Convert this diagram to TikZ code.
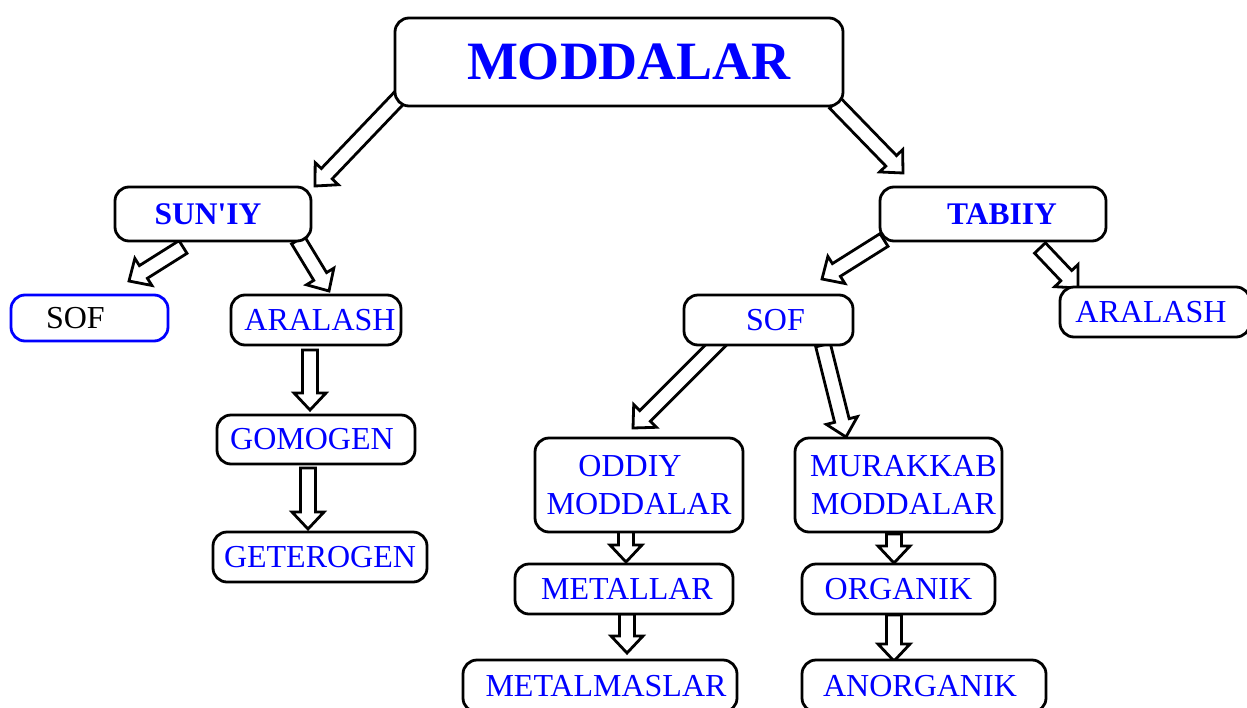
\documentclass[tikz,border=0pt]{standalone}
\usepackage{fontspec}
\setmainfont{Liberation Serif}
\usetikzlibrary{calc,backgrounds}
\definecolor{txtblue}{RGB}{0,0,255}
\tikzset{
  box/.style={draw, line width=2.8pt, rounded corners=14pt, fill=white, text=txtblue,
    font=\fontsize{32}{38}\selectfont, inner sep=0pt, align=center},
  boldbox/.style={box, font=\fontsize{31.5}{38}\selectfont\bfseries},
  fat/.style={draw, line width=2.8pt, fill=white, line join=miter},
}
% block arrow from #1 to #2
\newcommand{\fatarrow}[2]{%
  \coordinate (fa-h) at ($(#2)!17pt!(#1)$);
  \draw[fat] ($(#1)!7.5pt!90:(#2)$) -- ($(fa-h)!7.5pt!-90:(#1)$) -- ($(fa-h)!16pt!-90:(#1)$)
    -- (#2) -- ($(fa-h)!16pt!90:(#1)$) -- ($(fa-h)!7.5pt!90:(#1)$) -- ($(#1)!7.5pt!-90:(#2)$) -- cycle;}

\begin{document}
\begin{tikzpicture}[x=1pt, y=-1pt]
\useasboundingbox (0,0) rectangle (1247,707);

% top
\node[boldbox, minimum width=448, minimum height=88, font=\fontsize{54}{60}\selectfont\bfseries] (moddalar) at (619,62) {\hspace{20pt}MODDALAR};
\node[boldbox, minimum width=196, minimum height=54] (suniy) at (213,214) {SUN\textquotesingle IY\hspace{10pt}};
\node[boldbox, minimum width=226, minimum height=54] (tabiiy) at (993,214) {\hspace{18pt}TABIIY};

% sun'iy side
\node[box, draw=txtblue, text=black, text width=87pt, inner xsep=35pt, align=left, minimum height=46] (sofl) at (89.5,318) {SOF};
\node[box, minimum width=170, minimum height=50] (aralashl) at (316,320) {\hspace{8pt}ARALASH};
\node[box, minimum width=198, minimum height=49] (gomogen) at (316,439.5) {GOMOGEN\hspace{8pt}};
\node[box, minimum width=214, minimum height=50] (geterogen) at (320,557) {GETEROGEN};

% tabiiy side
\node[box, minimum width=169, minimum height=50] (sofr) at (768.5,320) {\hspace{14pt}SOF};
\node[box, minimum width=190, minimum height=50] (aralashr) at (1155,312) {ARALASH\hspace{8pt}};
\node[box, minimum width=208, minimum height=94] (oddiy) at (639,485) {\hspace{-18pt}ODDIY\\MODDALAR};
\node[box, minimum width=207, minimum height=94] (murakkab) at (898.5,485) {\hspace{10pt}MURAKKAB\\\hspace{10pt}MODDALAR};
\node[box, minimum width=218, minimum height=50] (metallar) at (624,589) {\hspace{6pt}METALLAR};
\node[box, minimum width=193, minimum height=50] (organik) at (898.5,589) {ORGANIK};
\node[box, minimum width=274, minimum height=52] (metalmaslar) at (600,686) {\hspace{12pt}METALMASLAR};
\node[box, minimum width=244, minimum height=52] (anorganik) at (924,686) {ANORGANIK\hspace{8pt}};

% arrow ends
\coordinate (t1) at (400,97);   \coordinate (h1) at (315,186);
\coordinate (t2) at (835,103);  \coordinate (h2) at (903,173);
\coordinate (t3) at (183,247);  \coordinate (h3) at (129,281);
\coordinate (t4) at (298,240);  \coordinate (h4) at (329,291);
\coordinate (t5) at (310,350);  \coordinate (h5) at (310,410);
\coordinate (t6) at (308,468);  \coordinate (h6) at (308,529);
\coordinate (t7) at (884,240);  \coordinate (h7) at (822,279);
\coordinate (t8) at (1040,248); \coordinate (h8) at (1078,288);
\coordinate (t9) at (721,340);  \coordinate (h9) at (633,428);
\coordinate (t10) at (823,345); \coordinate (h10) at (846,437);
\coordinate (t11) at (626,530); \coordinate (h11) at (626,562);
\coordinate (t12) at (627,614); \coordinate (h12) at (627,653);
\coordinate (t13) at (894,534); \coordinate (h13) at (894,563);
\coordinate (t14) at (894,615); \coordinate (h14) at (894,661);

\begin{scope}[on background layer]
\foreach \i in {1,...,14}{\fatarrow{t\i}{h\i}}
\end{scope}
\end{tikzpicture}
\end{document}
